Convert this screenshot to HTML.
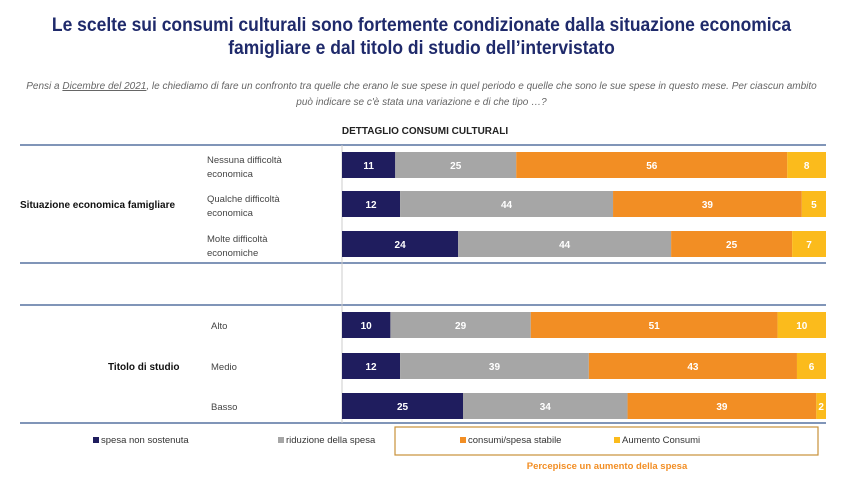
<!DOCTYPE html>
<html><head><meta charset="utf-8"><style>
body{margin:0;width:843px;height:477px;background:#fff;font-family:"Liberation Sans",sans-serif;overflow:hidden;position:relative}
.t{position:absolute;white-space:nowrap}
</style></head><body>
<div class="t" style="left:0;width:843px;top:14px;text-align:center;color:#1f2a6b;font-weight:bold;font-size:19px;line-height:23px;transform:scaleX(0.92)">Le scelte sui consumi culturali sono fortemente condizionate dalla situazione economica<br>famigliare e dal titolo di studio dell’intervistato</div>
<div class="t" style="left:20px;width:803px;top:79px;text-align:center;color:#666;font-style:italic;font-size:10px;line-height:16px;white-space:normal">Pensi a <u>Dicembre del 2021</u>, le chiediamo di fare un confronto tra quelle che erano le sue spese in quel periodo e quelle che sono le sue spese in questo mese. Per ciascun ambito può indicare se c'è stata una variazione e di che tipo …?</div>
<svg id="c" width="843" height="477" style="position:absolute;left:0;top:0"></svg>
<script>
const categories=["Nessuna difficoltà|economica","Qualche difficoltà|economica","Molte difficoltà|economiche","Alto","Medio","Basso"];
const spesaNonSostenuta=[11,12,24,10,12,25];
const riduzione=[25,44,44,29,39,34];
const stabile=[56,39,25,51,43,39];
const aumento=[8,5,7,10,6,2];
const seriesNames=["spesa non sostenuta","riduzione della spesa","consumi/spesa stabile","Aumento Consumi"];
const colors=["#1f1d5e","#a6a6a6","#f28e24","#fbbb1c"];
const rowY=[165,204,244,325,366,406];
const NS="http://www.w3.org/2000/svg";
const svg=document.getElementById('c');
const x0=342,x1=826;
const xs=v=>v/100*(x1-x0);
function mk(tag,attrs,text){const e=document.createElementNS(NS,tag);for(const k in attrs)e.setAttribute(k,attrs[k]);if(text!==undefined)e.textContent=text;svg.appendChild(e);return e;}
const t0=mk('text',{x:425,y:134,'text-anchor':'middle','font-size':10,'font-weight':'bold',fill:'#222'},'DETTAGLIO CONSUMI CULTURALI');


[145,263,305,423].forEach(y=>{const l=mk('line',{x1:20,x2:826,y1:y,y2:y,stroke:'#8095b8','stroke-width':2});

});
const vl=mk('line',{x1:x0,x2:x0,y1:145,y2:423,stroke:'#ccc','stroke-width':1});


const series=[spesaNonSostenuta,riduzione,stabile,aumento];
categories.forEach((c,i)=>{
 const lines=c.split('|');const cy=rowY[i];
 lines.forEach((ln,j)=>{const lt=mk('text',{x:lines.length>1?207:211,y:cy+(lines.length>1?(j?12:-2):4),'font-size':9.5,fill:'#444'},ln);
 
 });
 let acc=0;
 series.forEach((s,k)=>{
  const v=s[i];const r=mk('rect',{x:x0+xs(acc),y:cy-13,width:xs(v),height:26,fill:colors[k]});
  
  
  const tx=mk('text',{x:x0+xs(acc+v/2),y:cy+4,'text-anchor':'middle','font-size':10,'font-weight':'bold',fill:'#fff'},v);
  
  
  acc+=v;
 });
});
[["Situazione economica famigliare",204,20],["Titolo di studio",366,108]].forEach(g=>{
 const gt=mk('text',{x:g[2],y:g[1]+4,'font-size':10,'font-weight':'bold',fill:'#111'},g[0]);
 
 
});
const bx=mk('rect',{x:395,y:427,width:423,height:28,fill:'none',stroke:'#c8913a','stroke-width':1.2});


const legX=[93,278,460,614];
seriesNames.forEach((n,k)=>{
 const sq=mk('rect',{x:legX[k],y:437,width:6,height:6,fill:colors[k]});
 
 
 const lt=mk('text',{x:legX[k]+8,y:443,'font-size':9.5,fill:'#333'},n);
 
 
});
const pt=mk('text',{x:607,y:469,'text-anchor':'middle','font-size':9.5,'font-weight':'bold',fill:'#f28e24'},'Percepisce un aumento della spesa');


</script>
</body></html>
